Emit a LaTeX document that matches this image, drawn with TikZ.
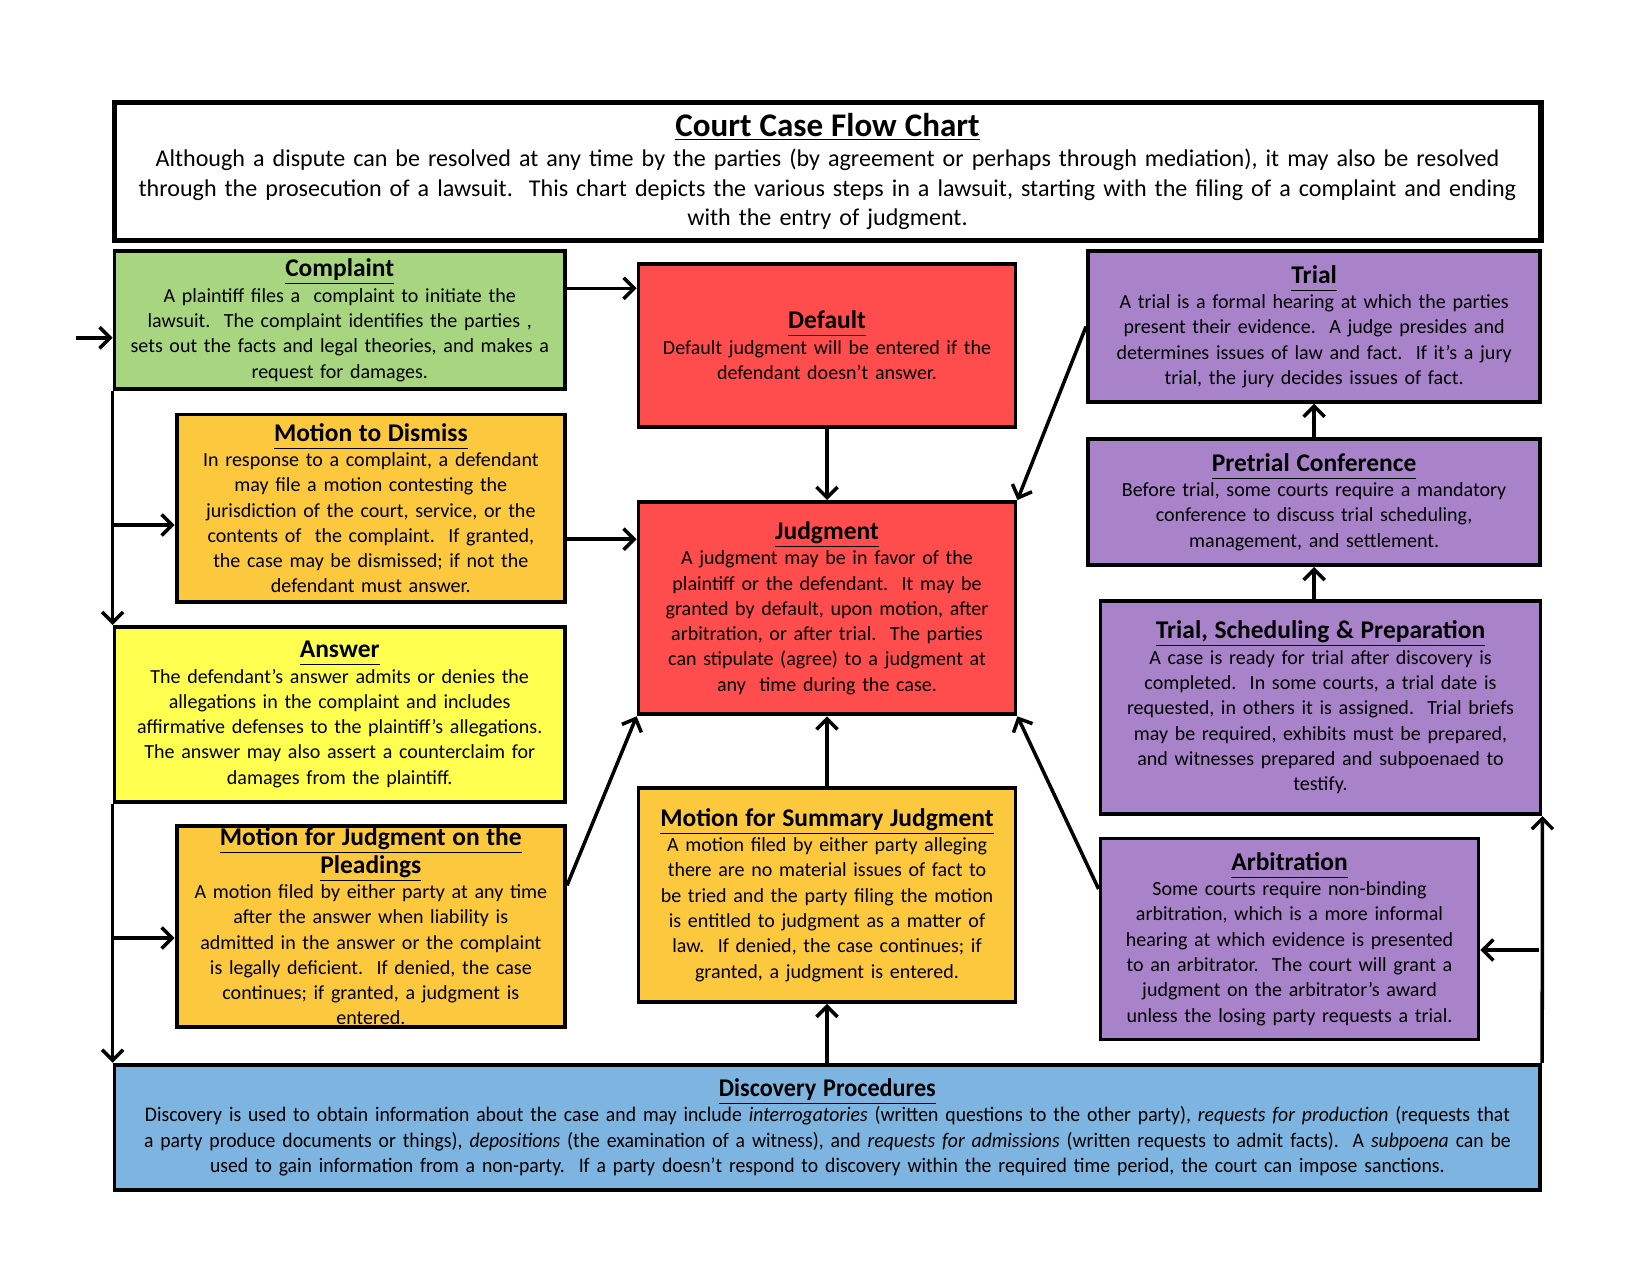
\documentclass[tikz,border=0pt]{standalone}
\usepackage{fontspec}
\setmainfont{Carlito}
\newfontfamily\narrowfont[FakeStretch=0.95]{Carlito}
\usepackage{xcolor}
\usepackage{tikz}
\usetikzlibrary{calc,arrows.meta}

\definecolor{boxgreen}{RGB}{168,214,128}
\definecolor{boxorange}{RGB}{252,201,62}
\definecolor{boxyellow}{RGB}{255,255,80}
\definecolor{boxred}{RGB}{255,77,77}
\definecolor{boxpurple}{RGB}{168,131,201}
\definecolor{boxblue}{RGB}{125,180,224}

\newcommand{\boxhead}[1]{{\fontsize{14.5}{15.6}\selectfont\bfseries\underline{#1\vphantom{g}}}}

\begin{document}
\begin{tikzpicture}[x=0.02cm, y=-0.02cm,
  card/.style={draw, line width=2.2pt, anchor=north west, align=center, inner xsep=2pt, inner ysep=0pt, font=\fontsize{11.4}{14.4}\selectfont},
  flow/.style={line width=2pt, -{Straight Barb[length=6pt,width=12pt]}},
  spine/.style={line width=2pt}]
  \useasboundingbox (0,0) rectangle (1650,1275);

  \node[card, line width=3pt, fill=white, minimum width=28.54cm, minimum height=2.76cm, text width=28.3cm, font=\fontsize{13.7}{17}\selectfont] (title) at (111.5,100)
    {{\fontsize{18.8}{20}\selectfont\bfseries\underline{Court Case Flow Chart}}\\
     Although a dispute can be resolved at any time by the parties (by agreement or perhaps through mediation), it may also be resolved\\
     through the prosecution of a lawsuit.\ \ This chart depicts the various steps in a lawsuit, starting with the filing of a complaint and ending\\
     with the entry of judgment.};

  \node[card, fill=boxgreen, minimum width=9.01cm, minimum height=2.76cm, text width=8.85cm] (complaint) at (112.6,249.4)
    {\boxhead{Complaint}\\
     A plaintiff files a\ \ complaint to initiate the\\
     lawsuit.\ \ The complaint identifies the parties ,\\
     sets out the facts and legal theories, and makes a\\
     request for damages.};

  \node[card, fill=boxorange, minimum width=7.77cm, minimum height=3.75cm, text width=7.6cm] (dismiss) at (174.7,412.5)
    {\boxhead{Motion to Dismiss}\\
     In response to a complaint, a defendant\\
     may file a motion contesting the\\
     jurisdiction of the court, service, or the\\
     contents of\ \ the complaint.\ \ If granted,\\
     the case may be dismissed; if not the\\
     defendant must answer.};

  \node[card, fill=boxyellow, minimum width=9.01cm, minimum height=3.5cm, text width=8.85cm] (answer) at (112.6,625)
    {\boxhead{Answer}\\
     The defendant’s answer admits or denies the\\
     allegations in the complaint and includes\\
     affirmative defenses to the plaintiff’s allegations.\\
     The answer may also assert a counterclaim for\\
     damages from the plaintiff.};

  \node[card, fill=boxorange, minimum width=7.77cm, minimum height=4.02cm, text width=7.6cm, inner ysep=-2pt] (pleadings) at (174.7,824)
    {\boxhead{Motion for Judgment on the}\\
     \boxhead{Pleadings}\\
     A motion filed by either party at any time\\
     after the answer when liability is\\
     admitted in the answer or the complaint\\
     is legally deficient.\ \ If denied, the case\\
     continues; if granted, a judgment is\\
     entered.};

  \node[card, fill=boxred, minimum width=7.54cm, minimum height=3.26cm, text width=7.4cm] (default) at (636.6,262)
    {\boxhead{Default}\\
     Default judgment will be entered if the\\
     defendant doesn’t answer.};

  \node[card, fill=boxred, minimum width=7.54cm, minimum height=4.25cm, text width=7.4cm] (judgment) at (636.6,500)
    {\boxhead{Judgment}\\
     A judgment may be in favor of the\\
     plaintiff or the defendant.\ \ It may be\\
     granted by default, upon motion, after\\
     arbitration, or after trial.\ \ The parties\\
     can stipulate (agree) to a judgment at\\
     any\ \ time during the case.};

  \node[card, fill=boxorange, minimum width=7.54cm, minimum height=4.28cm, text width=7.4cm] (summary) at (636.6,786)
    {\boxhead{Motion for Summary Judgment}\\
     A motion filed by either party alleging\\
     there are no material issues of fact to\\
     be tried and the party filing the motion\\
     is entitled to judgment as a matter of\\
     law.\ \ If denied, the case continues; if\\
     granted, a judgment is entered.};

  \node[card, fill=boxpurple, minimum width=9.05cm, minimum height=3.01cm, text width=8.9cm] (trial) at (1086,249.4)
    {\boxhead{Trial}\\
     A trial is a formal hearing at which the parties\\
     present their evidence.\ \ A judge presides and\\
     determines issues of law and fact.\ \ If it’s a jury\\
     trial, the jury decides issues of fact.};

  \node[card, fill=boxpurple, minimum width=9.05cm, minimum height=2.53cm, text width=8.9cm] (pretrial) at (1086,436.7)
    {\boxhead{Pretrial Conference}\\
     Before trial, some courts require a mandatory\\
     conference to discuss trial scheduling,\\
     management, and settlement.};

  \node[card, fill=boxpurple, minimum width=8.8cm, minimum height=4.27cm, text width=8.65cm] (prep) at (1098.6,598.8)
    {\boxhead{Trial, Scheduling \& Preparation}\\
     A case is ready for trial after discovery is\\
     completed.\ \ In some courts, a trial date is\\
     requested, in others it is assigned.\ \ Trial briefs\\
     may be required, exhibits must be prepared,\\
     and witnesses prepared and subpoenaed to\\
     testify.};

  \node[card, fill=boxpurple, minimum width=7.56cm, minimum height=4.02cm, text width=7.4cm] (arbitration) at (1098.6,836.6)
    {\boxhead{Arbitration}\\
     Some courts require non-binding\\
     arbitration, which is a more informal\\
     hearing at which evidence is presented\\
     to an arbitrator.\ \ The court will grant a\\
     judgment on the arbitrator’s award\\
     unless the losing party requests a trial.};

  \node[card, fill=boxblue, minimum width=28.52cm, minimum height=2.5cm, text width=28.3cm, font=\narrowfont\fontsize{11.8}{14.4}\selectfont] (discovery) at (112.6,1062.8)
    {\boxhead{Discovery Procedures}\\
     Discovery is used to obtain information about the case and may include \emph{interrogatories} (written questions to the other party), \emph{requests for production} (requests that\\
     a party produce documents or things), \emph{depositions} (the examination of a witness), and \emph{requests for admissions} (written requests to admit facts).\ \ A \emph{subpoena} can be\\
     used to gain information from a non-party.\ \ If a party doesn’t respond to discovery within the required time period, the court can impose sanctions.};

  \coordinate (entry) at (75.8,337.8);
  \coordinate (b1) at (112.6,525);
  \coordinate (b2) at (112.6,938);
  \coordinate (b3) at (1538.5,950);
  \coordinate (c1) at ($(complaint.east)+(0,-32)$);
  \coordinate (c2) at ($(dismiss.east)+(0,31)$);
  \coordinate (c3) at ($(pleadings.east)+(0,-41)$);
  \coordinate (c4) at ($(arbitration.west)+(0,-50)$);

  \draw[flow] (entry) -- (entry -| complaint.west);
  \draw[flow] (complaint.south west) -- (answer.north west);
  \draw[flow] (answer.south west) -- (discovery.north west);
  \draw[flow] (b1) -- (b1 -| dismiss.west);
  \draw[flow] (b2) -- (b2 -| pleadings.west);
  \draw[flow] (c1) -- (c1 -| default.west);
  \draw[flow] (c2) -- (c2 -| judgment.west);
  \draw[flow] (c3) -- (judgment.south west);
  \draw[flow] (default.south) -- (judgment.north);
  \draw[flow] (summary.north) -- (judgment.south);
  \draw[flow] (discovery.north -| summary.south) -- (summary.south);
  \draw[flow] (trial.west) -- (judgment.north east);
  \draw[flow] (c4) -- (judgment.south east);
  \draw[flow] (pretrial.north) -- (trial.south);
  \draw[flow] (prep.north -| pretrial.south) -- (pretrial.south);
  \draw[flow] (discovery.north east) -- (prep.south east);
  \draw[flow] (b3) -- (b3 -| arbitration.east);
\end{tikzpicture}
\end{document}
